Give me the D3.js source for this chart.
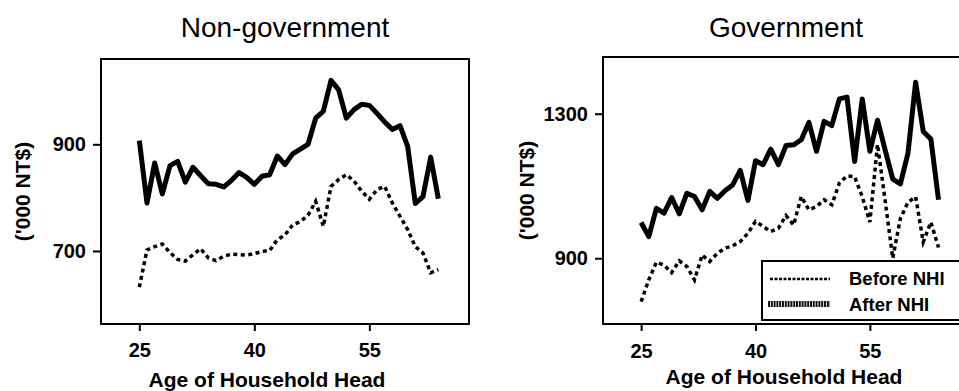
<!DOCTYPE html>
<html>
<head>
<meta charset="utf-8">
<script src="https://cdn.jsdelivr.net/npm/d3@7"></script>
<style>
  html, body { margin: 0; padding: 0; background: #fff; }
  svg { display: block; }
  text { font-family: "Liberation Sans", Arial, Helvetica, sans-serif; fill: #000; }
</style>
</head>
<body>
<svg id="chart" width="959" height="391"></svg>
<script>
// Household income by age of household head, before and after NHI ('000 NT$)
const ages = [25, 26, 27, 28, 29, 30, 31, 32, 33, 34, 35, 36, 37, 38, 39, 40, 41, 42, 43, 44,
              45, 46, 47, 48, 49, 50, 51, 52, 53, 54, 55, 56, 57, 58, 59, 60, 61, 62, 63, 64];

const nonGovBefore = [632, 702, 708, 713, 697, 684, 681, 693, 704, 687, 682, 690, 694, 693, 692, 695, 699, 701, 721, 730,
                      749, 755, 767, 793, 746, 821, 834, 843, 831, 812, 797, 815, 821, 790, 765, 740, 708, 696, 659, 665];
const nonGovAfter  = [907, 790, 865, 807, 860, 868, 829, 857, 841, 826, 825, 820, 832, 847, 838, 825, 840, 843, 878, 862,
                      882, 891, 900, 949, 962, 1020, 1002, 949, 965, 975, 973, 958, 942, 928, 935, 896, 789, 802, 876, 798];

const govBefore = [780, 840, 889, 881, 860, 893, 877, 840, 909, 891, 914, 928, 934, 946, 969, 1002, 988, 974, 983, 1018,
                   992, 1071, 1034, 1043, 1062, 1048, 1108, 1128, 1126, 1070, 1000, 1215, 1060, 900, 1010, 1055, 1070, 945, 1000, 930];
const govAfter  = [999, 960, 1038, 1025, 1068, 1023, 1080, 1071, 1034, 1085, 1066, 1087, 1103, 1143, 1060, 1170, 1159, 1202, 1159, 1212,
                   1214, 1228, 1276, 1196, 1279, 1267, 1341, 1346, 1168, 1341, 1196, 1282, 1200, 1119, 1106, 1191, 1387, 1251, 1230, 1062];

const xTicks = [25, 40, 55];
const nonGovYTicks = [700, 900];
const govYTicks = [900, 1300];
const panelTitles = ["Non-government", "Government"];
const legendLabels = ["Before NHI", "After NHI"];
const xAxisTitle = "Age of Household Head";
const yAxisTitle = "('000 NT$)";

const svg = d3.select("#chart");
const FONT = '"Liberation Sans", Arial, Helvetica, sans-serif';

const panels = [
  { title: panelTitles[0], before: nonGovBefore, after: nonGovAfter, yTicks: nonGovYTicks,
    left: 101, right: 469, top: 59, bottom: 324, yDomain: [563, 1060],
    titleX: 285, xTitleX: 267, xTitleY: 386.5, tickBaseline: 356.5, yTitleX: 23, legend: false },
  { title: panelTitles[1], before: govBefore, after: govAfter, yTicks: govYTicks,
    left: 603, right: 969, top: 57, bottom: 324, yDomain: [718, 1457],
    titleX: 786, xTitleX: 784, xTitleY: 383.5, tickBaseline: 358, yTitleX: 527, legend: true }
];

panels.forEach(p => {
  const x = d3.scaleLinear().domain([20, 68]).range([p.left, p.right]);
  const y = d3.scaleLinear().domain(p.yDomain).range([p.bottom, p.top]);
  const g = svg.append("g");

  // panel title
  g.append("text")
    .attr("x", p.titleX).attr("y", 36.5)
    .attr("text-anchor", "middle")
    .style("font-size", "28px")
    .text(p.title);

  // x axis
  const xAxis = d3.axisBottom(x).tickValues(xTicks).tickSize(7).tickSizeOuter(0).tickFormat(d3.format("d"));
  const gx = g.append("g").attr("transform", `translate(0,${p.bottom})`).call(xAxis);
  gx.select(".domain").remove();
  gx.selectAll(".tick line").attr("stroke", "#000").attr("stroke-width", 2);
  gx.selectAll(".tick text")
    .attr("y", p.tickBaseline - p.bottom).attr("dy", null)
    .style("font-family", FONT).style("font-size", "20px").style("font-weight", "bold").attr("fill", "#000");

  // y axis
  const yAxis = d3.axisLeft(y).tickValues(p.yTicks).tickSize(8).tickSizeOuter(0).tickPadding(7).tickFormat(d3.format("d"));
  const gy = g.append("g").attr("transform", `translate(${p.left},0)`).call(yAxis);
  gy.select(".domain").remove();
  gy.selectAll(".tick line").attr("stroke", "#000").attr("stroke-width", 2);
  gy.selectAll(".tick text")
    .style("font-family", FONT).style("font-size", "20px").style("font-weight", "bold").attr("fill", "#000");

  // axis titles
  g.append("text")
    .attr("x", p.xTitleX).attr("y", p.xTitleY)
    .attr("text-anchor", "middle")
    .style("font-size", "21px").style("font-weight", "bold")
    .text(xAxisTitle);
  g.append("text")
    .attr("transform", `translate(${p.yTitleX},${(p.top + p.bottom) / 2}) rotate(-90)`)
    .attr("text-anchor", "middle").attr("dy", "0.35em")
    .style("font-size", "21px").style("font-weight", "bold")
    .text(yAxisTitle);

  // series lines
  const line = vals => d3.line().x((d, i) => x(ages[i])).y(d => y(d))(vals);
  g.append("path")
    .attr("d", line(p.before))
    .attr("fill", "none").attr("stroke", "#000")
    .attr("stroke-width", 3.5).attr("stroke-dasharray", "4,3.5");
  g.append("path")
    .attr("d", line(p.after))
    .attr("fill", "none").attr("stroke", "#000")
    .attr("stroke-width", 5).attr("stroke-linejoin", "round");

  // frame
  g.append("rect")
    .attr("x", p.left).attr("y", p.top)
    .attr("width", p.right - p.left).attr("height", p.bottom - p.top)
    .attr("fill", "none").attr("stroke", "#000").attr("stroke-width", 2);

  if (p.legend) {
    const lg = g.append("g");
    lg.append("rect")
      .attr("x", 762).attr("y", 261).attr("width", 215).attr("height", 59)
      .attr("fill", "#fff").attr("stroke", "#000").attr("stroke-width", 2);
    lg.append("line")
      .attr("x1", 770).attr("x2", 830).attr("y1", 279).attr("y2", 279)
      .attr("stroke", "#000").attr("stroke-width", 2.5).attr("stroke-dasharray", "3,1.5");
    lg.append("line")
      .attr("x1", 768).attr("x2", 830).attr("y1", 304).attr("y2", 304)
      .attr("stroke", "#111").attr("stroke-width", 6).attr("stroke-dasharray", "2,0.8");
    lg.append("text").attr("x", 849).attr("y", 285)
      .style("font-size", "18.5px").style("font-weight", "bold").text(legendLabels[0]);
    lg.append("text").attr("x", 849).attr("y", 310.5)
      .style("font-size", "18.5px").style("font-weight", "bold").text(legendLabels[1]);
  }
});
</script>
</body>
</html>
